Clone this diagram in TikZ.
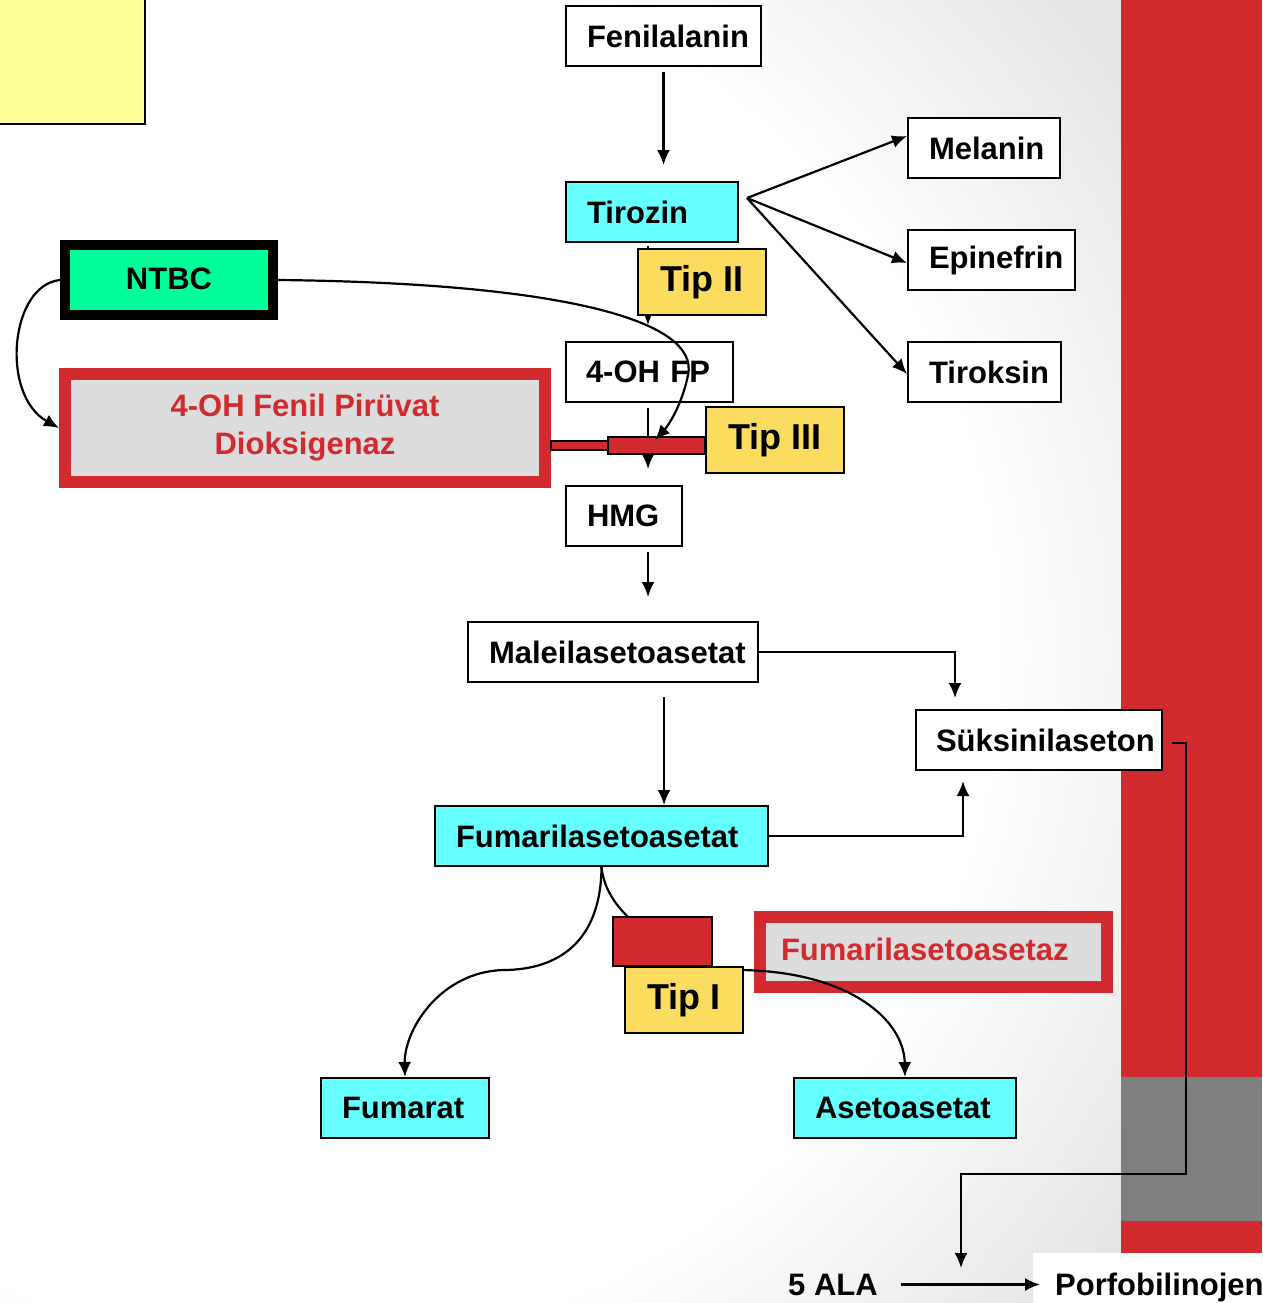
\documentclass[tikz,border=0pt]{standalone}
\usepackage{fontspec}
\setmainfont{Liberation Sans}
\usetikzlibrary{arrows.meta}
\definecolor{cyanf}{HTML}{66FFFF}
\definecolor{tipy}{HTML}{FCDC5F}
\definecolor{lighty}{HTML}{FFFF99}
\definecolor{ntbcg}{HTML}{00FF99}
\definecolor{redc}{HTML}{D12A2F}
\definecolor{grayf}{HTML}{DDDDDD}
\definecolor{bandg}{HTML}{7F7F7F}
\pgfdeclareradialshading{bgrad}{\pgfpoint{0bp}{0bp}}{color(0bp)=(white); color(15.9bp)=(white); color(22.7bp)=(black!10); color(50bp)=(black!10)}
\begin{document}
\begin{tikzpicture}[x=1pt,y=-1pt,
  txt/.style={font=\fontsize{31}{37}\selectfont\bfseries},
  pbox/.style={txt, draw, line width=2pt, fill=white, inner sep=0pt, minimum height=60pt, align=left, anchor=north west},
  tipbox/.style={font=\fontsize{36}{42}\selectfont\bfseries, draw, line width=2pt, fill=tipy, inner sep=0pt, anchor=north west},
  conn/.style={line width=2.2pt},
  arr/.style={conn, -{Latex[length=15pt,width=13pt]}}
]
\useasboundingbox (0,0) rectangle (1262,1303);
\begin{scope}
\clip (0,0) rectangle (1262,1303);
% background
\begin{scope}
\clip (0,0) rectangle (1121,1303);
\shade[shading=bgrad] (-800,-450) rectangle (1400,1750);
\end{scope}
\fill[redc] (1121,0) rectangle (1262,1253);
\fill[bandg] (1121,1077) rectangle (1262,1221);
\fill[white] (1033,1253) rectangle (1262,1303);
\draw[line width=2pt, fill=lighty] (-5,-5) rectangle (145,124);

% nodes
\node[pbox, text width=195pt] (fen) at (565,5) {\hspace*{21pt}Fenilalanin};
\node[pbox, text width=172pt, fill=cyanf] (tir) at (565,181) {\hspace*{21pt}Tirozin};
\node[pbox, text width=152pt] (mel) at (907,117) {\hspace*{21pt}Melanin};
\node[pbox, text width=167pt] (epi) at (907,229) {\hspace*{21pt}Epinefrin};
\node[pbox, text width=153pt] (tirk) at (907,341) {\hspace*{21pt}Tiroksin};
\node[pbox, text width=167pt] (oh) at (565,341) {\hspace*{20pt}4-OH FP};
\node[pbox, text width=116pt] (hmg) at (565,485) {\hspace*{21pt}HMG};
\node[pbox, text width=290pt] (mal) at (467,621) {\hspace*{21pt}Maleilasetoasetat};
\node[pbox, text width=246pt] (suk) at (915,709) {\hspace*{20pt}Süksinilaseton};
\node[pbox, text width=333pt, fill=cyanf] (fum) at (434,805) {\hspace*{21pt}Fumarilasetoasetat};
\node[pbox, text width=168pt, fill=cyanf] (fmt) at (320,1077) {\hspace*{21pt}Fumarat};
\node[pbox, text width=222pt, fill=cyanf] (aset) at (793,1077) {\hspace*{21pt}Asetoasetat};

\node[txt, draw=black, line width=10pt, fill=ntbcg, minimum width=208pt, minimum height=70pt, inner sep=0pt] (ntbc) at (169,280) {\raisebox{3pt}{NTBC}};
\node[txt, draw=redc, line width=12pt, fill=grayf, text=redc, minimum width=480pt, minimum height=108pt, inner sep=0pt, align=center, font=\fontsize{31}{38}\selectfont\bfseries] (hppd) at (305,428) {\raisebox{4pt}{\parbox{470pt}{\centering 4-OH Fenil Pirüvat\\Dioksigenaz}}};
\node[txt, draw=redc, line width=12pt, fill=grayf, text=redc, minimum width=347pt, minimum height=70pt, inner sep=0pt, anchor=north west, text width=347pt, align=left] (faah) at (754,911) {\raisebox{5pt}{\hspace*{21pt}Fumarilasetoasetaz}};

% connectors (under boxes)
\coordinate (tb) at ([xshift=8pt,yshift=14pt]tir.east);
\draw[arr, shorten <=5pt, shorten >=16pt] (fen.south) -- (fen.south |- tir.north);
\draw[arr] (tb) -- ([yshift=12pt]mel.west);
\draw[arr] (tb) -- ([yshift=-3pt]epi.west);
\draw[arr] (tb) -- ([yshift=-2pt]tirk.west);
\draw[arr, shorten <=3pt, shorten >=16pt] ([xshift=-4pt]tir.south) -- ([xshift=-4pt]tir.south |- oh.north);
\draw[arr, shorten <=5pt, shorten >=16pt] ([xshift=-1.5pt]oh.south) -- ([xshift=-1.5pt]oh.south |- hmg.north);
\draw[arr, shorten <=5pt, shorten >=24pt] ([xshift=24pt]hmg.south) -- ([xshift=24pt]hmg.south |- mal.north);
\draw[arr, shorten >=11pt] (mal.east) -| ([xshift=40pt]suk.north west);
\draw[arr, shorten <=14pt] ([xshift=51pt]mal.south) -- ([xshift=51pt]mal.south |- fum.north);
\draw[arr, shorten >=10pt] (fum.east) -| ([xshift=48pt]suk.south west);
\draw[arr] (fum.south) .. controls (601,940) and (560,970) .. (503,970) .. controls (440,972) and (404,1030) .. (fmt.north);
\draw[arr] (fum.south) .. controls (605,900) and (630,925) .. (680,955) .. controls (700,967) and (720,970) .. (742,970) .. controls (850,972) and (904,1020) .. (aset.north);

% boxes that connectors pass under
\node[tipbox, minimum width=128pt, minimum height=66pt] (tip2) at (637,248) {Tip II};
\draw[line width=2pt, fill=redc] (hppd.east |- 0,441) rectangle (608,450);
\draw[line width=2pt, fill=redc] (608,437) rectangle (705,454);
\node[tipbox, minimum width=138pt, minimum height=66pt] (tip3) at (705,406) {Tip III};
\draw[line width=2pt, fill=redc] (613,917) rectangle (712,966);
\node[tipbox, minimum width=118pt, minimum height=66pt] (tip1) at (624,966) {Tip I};

% NTBC connectors
\coordinate (inh) at ([xshift=-50pt]tip3.west);
\draw[arr] (ntbc.east) .. controls (560,283) and (700,320) .. (688,375) .. controls (682,405) and (668,426) .. (inh);
\draw[arr] (ntbc.west) .. controls (10,285) and (0,395) .. (hppd.west);

% bottom
\node[txt, anchor=base] (ala) at (833,1295) {5 ALA};
\node[txt, anchor=base west, inner sep=0pt] (porf) at (1055,1295) {Porfobilinojen};
\coordinate (ala0) at (961,1286);
\draw[arr] ([xshift=20pt]ala.east) -- ([xshift=-15pt]porf.west |- ala.east);
\draw[arr, shorten >=18pt] ([xshift=9pt,yshift=-3pt]suk.east) -- ++(14,0) -- ++(0,431) -| (ala0);
\end{scope}
\end{tikzpicture}
\end{document}
